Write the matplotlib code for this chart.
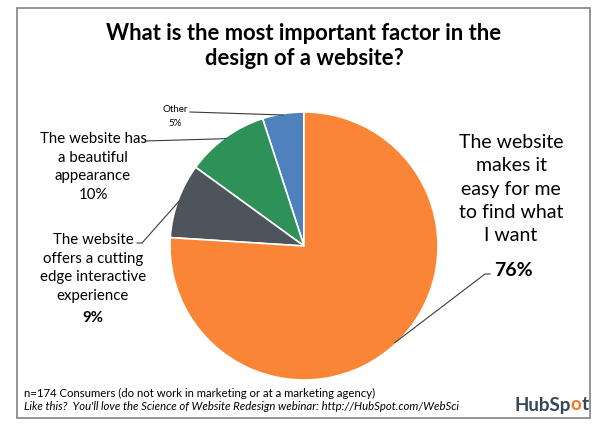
import numpy as np
import matplotlib
matplotlib.use("Agg")
import matplotlib.pyplot as plt
from matplotlib.patches import Rectangle

# ---- data ----
categories = ["Other", "The website has\na beautiful\nappearance",
              "The website\noffers a cutting\nedge interactive\nexperience",
              "The website\nmakes it\neasy for me\nto find what\nI want"]
values = [5, 10, 9, 76]
pct_labels = ["5%", "10%", "9%", "76%"]
colors = ["#4F81BD", "#2E9157", "#4E545B", "#FB8537"]
title = "What is the most important factor in the\ndesign of a website?"
note1 = "n=174 Consumers (do not work in marketing or at a marketing agency)"
note2 = "Like this?  You'll love the Science of Website Redesign webinar: http://HubSpot.com/WebSci"

W, H = 606, 438
FONT = ["Lato", "DejaVu Sans"]
plt.rcParams['font.family'] = FONT

fig = plt.figure(figsize=(W / 100, H / 100), dpi=100)
ax = fig.add_axes([0, 0, 1, 1])

def Y(py):
    return H - py

cx, cy, R = 304, Y(246), 134
wedges, _ = ax.pie(values, colors=colors, startangle=90, counterclock=True,
                   center=(cx, cy), radius=R, frame=True,
                   wedgeprops=dict(edgecolor="white", linewidth=1.2))
ax.set_xlim(0, W)
ax.set_ylim(0, H)
ax.set_aspect("equal")
ax.axis("off")

# frame
ax.add_patch(Rectangle((17, Y(418)), 590 - 17, 418 - 8, fill=False,
                       edgecolor="#8C8C8C", lw=1.3))

def edge_pt(w, f=0.99):
    a = np.deg2rad((w.theta1 + w.theta2) / 2)
    return cx + f * R * np.cos(a), cy + f * R * np.sin(a)

lc = "#3A3A3A"
# title
ax.text(304, Y(46), title, ha="center", va="center", fontsize=15.8,
        fontweight="bold", linespacing=1.2, color="black")

# Other
ax.text(175, Y(109), categories[0], ha="center", va="center", fontsize=7)
ax.text(175, Y(123), pct_labels[0], ha="center", va="center", fontsize=7)
tx, ty = edge_pt(wedges[0])
ax.plot([190, tx], [Y(112), ty], color=lc, lw=0.8)

# beautiful
ax.text(93, Y(167), categories[1] + "\n" + pct_labels[1], ha="center",
        va="center", fontsize=10.8, linespacing=1.4)
tx, ty = edge_pt(wedges[1])
ax.plot([145, tx], [Y(141), ty], color=lc, lw=0.8)

# cutting edge
ax.text(93, Y(268), categories[2], ha="center", va="center", fontsize=10.8,
        linespacing=1.4)
ax.text(93, Y(318), pct_labels[2], ha="center", va="center", fontsize=10.8,
        fontweight="bold")
tx, ty = edge_pt(wedges[2])
ax.plot([137, 142, tx], [Y(243), Y(243), ty], color=lc, lw=0.8)

# easy to find
ax.text(511, Y(189), categories[3], ha="center", va="center", fontsize=14,
        linespacing=1.45)
ax.text(513, Y(270), pct_labels[3], ha="center", va="center", fontsize=14,
        fontweight="bold")
tx, ty = edge_pt(wedges[3])
ax.plot([490, 485, tx], [Y(274), Y(274), ty], color=lc, lw=0.8)

# footer
ax.text(24, Y(393), note1, ha="left", va="center", fontsize=8.2)
ax.text(24, Y(407), note2, ha="left", va="center", fontsize=8.2, style="italic")

# logo
fig.canvas.draw()
r = fig.canvas.get_renderer()
x0 = 514
parts = [("HubSp", "#33475B"), ("o", "#F57722"), ("t", "#33475B")]
inv = ax.transData.inverted()
for s, c in parts:
    t = ax.text(x0, Y(405), s, ha="left", va="center", fontsize=13.5,
                fontweight="bold", color=c)
    bb = t.get_window_extent(r)
    x0 = inv.transform((bb.x1, bb.y1))[0]

fig.savefig("out.png", dpi=100)
